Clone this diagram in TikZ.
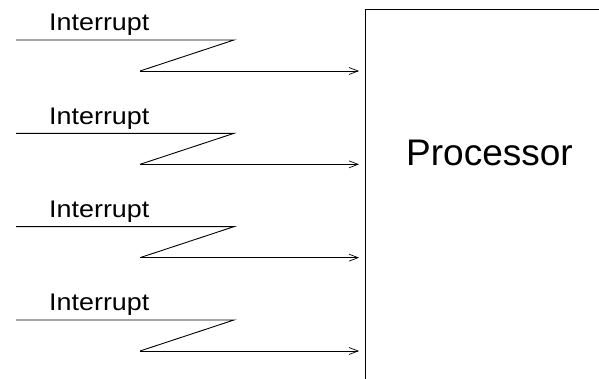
\documentclass[tikz,border=0pt]{standalone}
\usepackage{fontspec}
\setmainfont{Liberation Sans}
\usetikzlibrary{arrows.meta}
\tikzset{
  wire/.style={line width=0.9pt, black},
  sig/.style={wire, -{Straight Barb[length=9pt,width=7pt,line width=0.7pt]}},
  lbl/.style={font=\fontsize{24}{24}\selectfont, inner sep=0pt, anchor=base west, xscale=1.12},
  proc/.style={font=\fontsize{37}{37}\selectfont, inner sep=0pt, anchor=base west}
}
\begin{document}
\begin{tikzpicture}[x=1pt,y=-1pt]
\useasboundingbox (0,0) rectangle (599,379);
% processor box
\coordinate (pb) at (365,379);
\coordinate (pt) at (365,9);
\coordinate (pr) at (599,9);
\draw[wire] (pb) -- (pt) -- (pr);
\node[proc] (proc) at (406,166) {Processor};
\foreach \i in {0,1,2,3}{
  \pgfmathsetmacro{\dy}{\i*93.33}
  \node[lbl] (l\i) at (49,31+\dy) {Interrupt};
  \coordinate (a\i) at (16,40+\dy);
  \coordinate (b\i) at (234,40+\dy);
  \coordinate (c\i) at (140,71+\dy);
  \coordinate (d\i) at (359,71+\dy);
  \draw[wire] (a\i) -- (b\i) -- (c\i);
  \draw[sig] (c\i) -- (d\i);
}
\end{tikzpicture}
\end{document}
